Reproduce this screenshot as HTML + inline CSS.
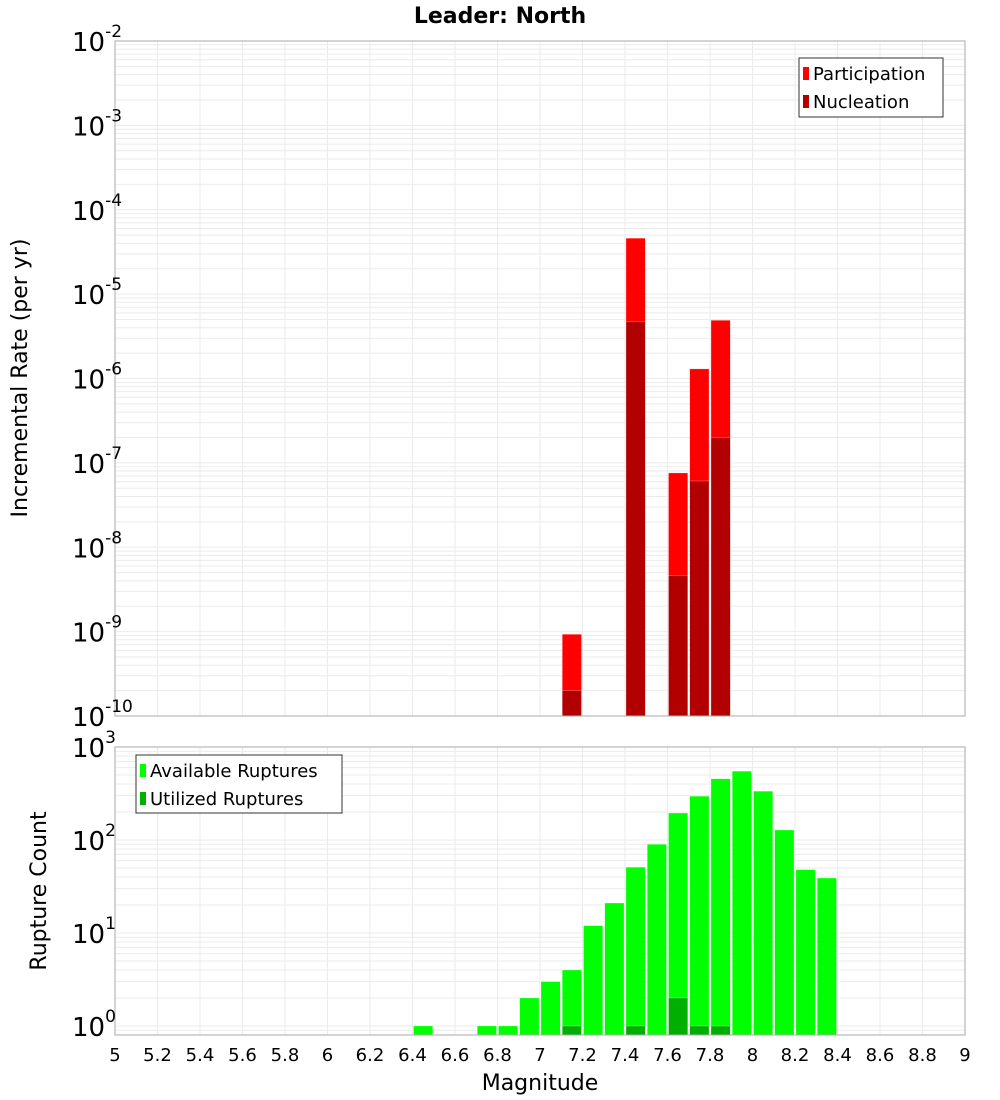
<!DOCTYPE html>
<html><head><meta charset="utf-8"><style>
body{margin:0;background:#fff;}
svg{display:block;font-family:"DejaVu Sans","Liberation Sans",sans-serif;}
</style></head><body>
<svg id="c" width="1000" height="1100" xmlns="http://www.w3.org/2000/svg">
<rect width="1000" height="1100" fill="#fff"/>
<text x="500" y="23" text-anchor="middle" font-size="22" font-weight="bold">Leader: North</text>
<g id="gtop"></g><g id="gbot"></g><g id="gxt"></g>
<text x="540" y="1090" text-anchor="middle" font-size="22">Magnitude</text>
<text transform="translate(27,378) rotate(-90)" text-anchor="middle" font-size="22">Incremental Rate (per yr)</text>
<text transform="translate(46,891) rotate(-90)" text-anchor="middle" font-size="22">Rupture Count</text>
</svg>
<script>
const rateMags=[7.15,7.45,7.65,7.75,7.85];
const participation=[9.3e-10,4.6e-5,7.6e-8,1.3e-6,4.9e-6];
const nucleation=[2.0e-10,4.7e-6,4.6e-9,6.1e-8,2.0e-7];
const countMags=[6.45,6.75,6.85,6.95,7.05,7.15,7.25,7.35,7.45,7.55,7.65,7.75,7.85,7.95,8.05,8.15,8.25,8.35];
const available=[1,1,1,2,3,4,12,21,51,90,195,296,455,550,335,128,48,39];
const utilMags=[7.15,7.45,7.65,7.75,7.85];
const utilized=[1,1,2,1,1];
const xTicks=["5","5.2","5.4","5.6","5.8","6","6.2","6.4","6.6","6.8","7","7.2","7.4","7.6","7.8","8","8.2","8.4","8.6","8.8","9"];

const NS="http://www.w3.org/2000/svg";
const X0=115,X1=965;
const xs=m=>X0+(m-5)/4*(X1-X0);
const T0=41,T1=716,B0=747,B1=1035;
const ty=v=>T0+(-2-Math.log10(v))/8*(T1-T0);
const bMin=Math.log10(0.8),bMax=3;
const by=v=>B0+(bMax-Math.log10(v))/(bMax-bMin)*(B1-B0);
function mk(tag,at,parent){const e=document.createElementNS(NS,tag);for(const k in at)e.setAttribute(k,at[k]);parent.appendChild(e);return e;}
const gTop=document.getElementById('gtop'),gBot=document.getElementById('gbot'),gXt=document.getElementById('gxt');

function grid(g,y0,y1,yf,dmin,dmax,vmin){
  for(let d=dmin;d<dmax;d++)for(let k=1;k<10;k++){const v=k*Math.pow(10,d);if(v<vmin)continue;const y=yf(v);if(y<y0-0.5||y>y1)continue;
    const l=mk('line',{x1:X0,x2:X1,y1:y,y2:y,stroke:'#ebebeb','stroke-width':1},g);
    
    }
  xTicks.forEach(t=>{const x=xs(+t);const l=mk('line',{x1:x,x2:x,y1:y0,y2:y1,stroke:'#ebebeb','stroke-width':1},g);
    
    });
}
grid(gTop,T0,T1,ty,-10,-2,1e-10);
grid(gBot,B0,B1,by,-1,3,0.8);

function bar(g,m,v,yf,base,fill,name){
  const x=xs(m-0.05)+1,w=xs(m+0.05)-xs(m-0.05)-2,y=yf(v);
  const r=mk('rect',{x:x,y:y,width:w,height:base-y,fill:fill,stroke:'#fff','stroke-opacity':0.5,'stroke-width':0.5},g);
  
  
}
rateMags.forEach((m,i)=>bar(gTop,m,participation[i],ty,T1,'#ff0000','participation-bar'));
rateMags.forEach((m,i)=>bar(gTop,m,nucleation[i],ty,T1,'#b20000','nucleation-bar'));
countMags.forEach((m,i)=>bar(gBot,m,available[i],by,B1,'#00ff00','available-bar'));
utilMags.forEach((m,i)=>bar(gBot,m,utilized[i],by,B1,'#00b000','utilized-bar'));

const f1=mk('rect',{x:X0,y:T0,width:X1-X0,height:T1-T0,fill:'none',stroke:'#aaa'},gTop);


const f2=mk('rect',{x:X0,y:B0,width:X1-X0,height:B1-B0,fill:'none',stroke:'#aaa'},gBot);



function ylab(g,y,exp){
  const t=mk('text',{x:72,y:y+10,'font-size':26},g);t.textContent='10';
  
  
  const s=mk('tspan',{dy:-14,'font-size':17},t);s.textContent=exp;
}
for(let d=-2;d>=-10;d--)ylab(gTop,ty(Math.pow(10,d)),String(d));
for(let d=3;d>=0;d--)ylab(gBot,by(Math.pow(10,d)),String(d));

xTicks.forEach(t=>{const e=mk('text',{x:xs(+t),y:1061,'text-anchor':'middle','font-size':18},gXt);e.textContent=t;
  
  });

function legend(g,x,y,w,h,items){
  const L=mk('g',{},g);
  
  
  mk('rect',{x:x,y:y,width:w,height:h,fill:'#fff',stroke:'#333'},L);
  items.forEach((it,i)=>{const cy=y+15+i*28;
    const e=mk('g',{},L);
    
    
    mk('rect',{x:x+4,y:cy-6,width:6,height:13,fill:it[1]},e);
    const t=mk('text',{x:x+14,y:cy+7,'font-size':18},e);t.textContent=it[0];});
}
legend(gTop,799,58,144,59,[['Participation','#ff0000'],['Nucleation','#b20000']]);
legend(gBot,136,755,206,58,[['Available Ruptures','#00ff00'],['Utilized Ruptures','#00b000']]);
</script>
</body></html>
